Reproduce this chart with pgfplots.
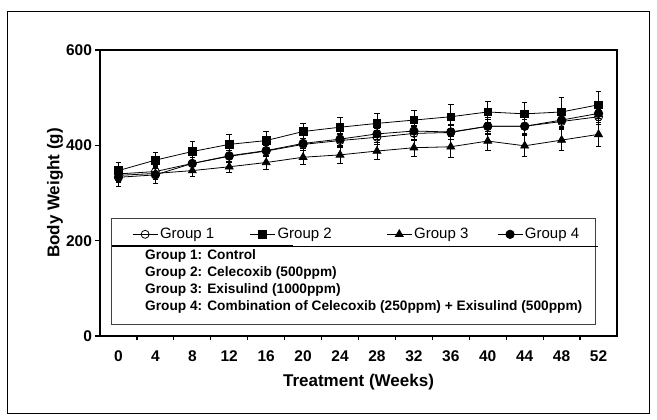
\documentclass[border=0pt]{standalone}
\usepackage{pgfplots}
\pgfplotsset{compat=1.18}
\usepackage{fontspec}
\setmainfont{Liberation Sans}
\pgfplotsset{
  base/.style={at={(100pt,84pt)}, anchor=south west, scale only axis,
    width=517pt, height=286pt, xmin=-2, xmax=54, ymin=0, ymax=600},
  leg/.style={base, hide axis,
    legend style={at={(axis cs:#1,213.3)}, anchor=west, draw=none, fill=none, inner sep=0pt,
      font=\fontsize{15}{17}\selectfont},
    legend image code/.code={\draw[mark repeat=2,mark phase=2,##1] plot coordinates {(0pt,0pt) (12.5pt,0pt) (25pt,0pt)};}},
}
\begin{document}
\begin{tikzpicture}
\useasboundingbox (0,0) rectangle (657pt,420pt);
\draw[line width=1pt] (7.5pt,6pt) rectangle (649pt,408pt);
\begin{axis}[
  base,
  axis line style={line width=1.6pt},
  tick pos=left, tick align=outside,
  major tick length=4.5pt,
  every tick/.style={black, line width=1.2pt},
  xtick={2,6,...,50}, xticklabels={},
  extra x ticks={0,4,...,52},
  extra x tick style={major tick length=0pt},
  extra x tick labels={0,4,8,12,16,20,24,28,32,36,40,44,48,52},
  ytick={0,200,400,600},
  /pgf/number format/assume math mode=true,
  tick label style={font=\fontsize{15.5}{17}\selectfont\bfseries},
  xticklabel style={yshift=-11pt},
  xlabel={Treatment (Weeks)}, ylabel={Body Weight (g)},
  every axis x label/.style={at={(axis description cs:0.5,-0.161)}, anchor=center, font=\fontsize{17}{19}\selectfont\bfseries},
  every axis y label/.style={at={(axis description cs:-0.087,0.5)}, rotate=90, anchor=center, font=\fontsize{17}{19}\selectfont\bfseries},
  error bars/error bar style={line width=0.7pt},
  error bars/error mark options={line width=0.7pt, mark size=2.8pt, rotate=90},
]
\addplot[black, line width=0.8pt, mark=o, mark size=4pt, mark options={fill=white, solid},
  error bars/.cd, y dir=both, y explicit] coordinates {
  (0,340)+-(0,15) (4,345)+-(0,12) (8,362)+-(0,12) (12,377)+-(0,12) (16,388)+-(0,12)
  (20,402)+-(0,12) (24,410)+-(0,14) (28,417)+-(0,15) (32,425)+-(0,15) (36,427)+-(0,15)
  (40,440)+-(0,18) (44,440)+-(0,18) (48,450)+-(0,15) (52,460)+-(0,15)};
\addplot[black, line width=0.8pt, mark=square*, mark size=3.8pt, mark options={solid, fill=black},
  error bars/.cd, y dir=both, y explicit] coordinates {
  (0,347)+-(0,18) (4,369)+-(0,17) (8,387)+-(0,22) (12,402)+-(0,22) (16,410)+-(0,20)
  (20,429)+-(0,18) (24,438)+-(0,20) (28,446)+-(0,22) (32,453)+-(0,20) (36,460)+-(0,25)
  (40,470)+-(0,22) (44,466)+-(0,25) (48,470)+-(0,30) (52,485)+-(0,28)};
\addplot[black, line width=0.8pt, mark=triangle*, mark size=4.5pt, mark options={solid, fill=black},
  error bars/.cd, y dir=both, y explicit] coordinates {
  (0,337)+-(0,15) (4,341)+-(0,12) (8,347)+-(0,12) (12,355)+-(0,12) (16,364)+-(0,14)
  (20,375)+-(0,15) (24,380)+-(0,17) (28,388)+-(0,18) (32,395)+-(0,18) (36,397)+-(0,22)
  (40,409)+-(0,20) (44,399)+-(0,22) (48,411)+-(0,22) (52,423)+-(0,26)};
\addplot[black, line width=0.8pt, mark=*, mark size=4.2pt, mark options={solid, fill=black},
  error bars/.cd, y dir=both, y explicit] coordinates {
  (0,333)+-(0,20) (4,338)+-(0,18) (8,362)+-(0,12) (12,378)+-(0,12) (16,389)+-(0,10)
  (20,404)+-(0,10) (24,413)+-(0,12) (28,424)+-(0,12) (32,430)+-(0,12) (36,428)+-(0,15)
  (40,440)+-(0,15) (44,440)+-(0,15) (48,453)+-(0,15) (52,467)+-(0,15)};
% legend frame and description
\draw[draw=black!75, line width=0.8pt] (axis cs:-0.733,246.9) rectangle (axis cs:51.67,25.2);
\draw[line width=1.3pt] (axis cs:-0.7,188.8) -- (axis cs:18.9,188.8);
\draw[line width=0.7pt] (axis cs:18.9,188.8) -- (axis cs:51.9,188.8);
\begin{scope}[every node/.style={anchor=west, inner sep=0pt, font=\fontsize{13.7}{15}\selectfont\bfseries}]
\node at (axis cs:2.874,167.8) {Group 1: Control};
\node at (axis cs:2.874,132.2) {Group 2: Celecoxib (500ppm)};
\node at (axis cs:2.874,96.5) {Group 3: Exisulind (1000ppm)};
\node at (axis cs:2.874,60.8) {Group 4: Combination of Celecoxib (250ppm) + Exisulind (500ppm)};
\end{scope}
\end{axis}
% legend row: one legend per group, each placed where the reference has it
\begin{axis}[leg=1.47]
\addlegendimage{black, line width=0.8pt, mark=o, mark size=4pt, mark options={fill=white, solid}}
\addlegendentry{Group 1}
\end{axis}
\begin{axis}[leg=14.2]
\addlegendimage{black, line width=0.8pt, mark=square*, mark size=3.8pt, mark options={solid, fill=black}}
\addlegendentry{Group 2}
\end{axis}
\begin{axis}[leg=29.0]
\addlegendimage{black, line width=0.8pt, mark=triangle*, mark size=4.5pt, mark options={solid, fill=black}}
\addlegendentry{Group 3}
\end{axis}
\begin{axis}[leg=41.0]
\addlegendimage{black, line width=0.8pt, mark=*, mark size=4.2pt, mark options={solid, fill=black}}
\addlegendentry{Group 4}
\end{axis}
\end{tikzpicture}
\end{document}
